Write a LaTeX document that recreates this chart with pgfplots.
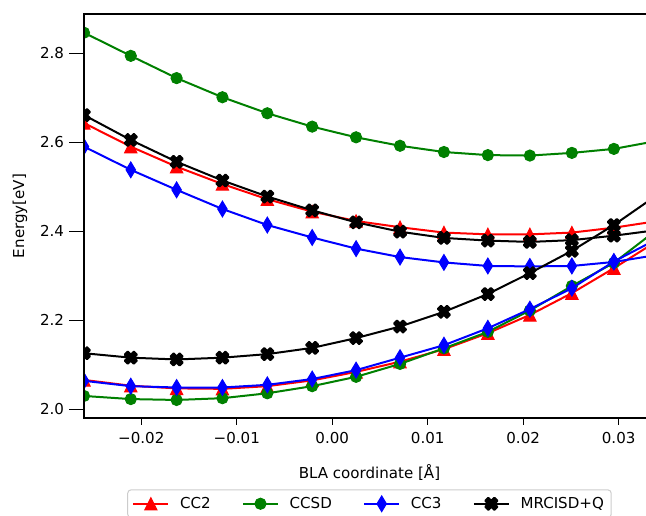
\documentclass[border=0pt]{standalone}
\usepackage{fontspec}
\setmainfont{DejaVu Sans}
\usepackage{pgfplots}
\pgfplotsset{compat=1.18}
\definecolor{mplgreen}{RGB}{0,128,0}
\definecolor{mplred}{RGB}{255,0,0}
\definecolor{mplblue}{RGB}{0,0,255}

\pgfdeclareplotmark{tri}{%
  \pgfpathmoveto{\pgfqpoint{0pt}{\pgfplotmarksize}}%
  \pgfpathlineto{\pgfqpoint{-\pgfplotmarksize}{-\pgfplotmarksize}}%
  \pgfpathlineto{\pgfqpoint{\pgfplotmarksize}{-\pgfplotmarksize}}%
  \pgfpathclose\pgfusepathqfillstroke}
\pgfdeclareplotmark{thind}{%
  \pgfpathmoveto{\pgfqpoint{0pt}{\pgfplotmarksize}}%
  \pgfpathlineto{\pgfqpoint{0.6\pgfplotmarksize}{0pt}}%
  \pgfpathlineto{\pgfqpoint{0pt}{-\pgfplotmarksize}}%
  \pgfpathlineto{\pgfqpoint{-0.6\pgfplotmarksize}{0pt}}%
  \pgfpathclose\pgfusepathqfillstroke}
\pgfdeclareplotmark{Xfill}{%
  \pgfpathmoveto{\pgfqpoint{0.4714\pgfplotmarksize}{-0.9428\pgfplotmarksize}}%
  \pgfpathlineto{\pgfqpoint{0.9428\pgfplotmarksize}{-0.4714\pgfplotmarksize}}%
  \pgfpathlineto{\pgfqpoint{0.4714\pgfplotmarksize}{0pt}}%
  \pgfpathlineto{\pgfqpoint{0.9428\pgfplotmarksize}{0.4714\pgfplotmarksize}}%
  \pgfpathlineto{\pgfqpoint{0.4714\pgfplotmarksize}{0.9428\pgfplotmarksize}}%
  \pgfpathlineto{\pgfqpoint{0pt}{0.4714\pgfplotmarksize}}%
  \pgfpathlineto{\pgfqpoint{-0.4714\pgfplotmarksize}{0.9428\pgfplotmarksize}}%
  \pgfpathlineto{\pgfqpoint{-0.9428\pgfplotmarksize}{0.4714\pgfplotmarksize}}%
  \pgfpathlineto{\pgfqpoint{-0.4714\pgfplotmarksize}{0pt}}%
  \pgfpathlineto{\pgfqpoint{-0.9428\pgfplotmarksize}{-0.4714\pgfplotmarksize}}%
  \pgfpathlineto{\pgfqpoint{-0.4714\pgfplotmarksize}{-0.9428\pgfplotmarksize}}%
  \pgfpathlineto{\pgfqpoint{0pt}{-0.4714\pgfplotmarksize}}%
  \pgfpathclose\pgfusepathqfillstroke}

% x: BLA coordinate, columns: upper and lower state energies
\pgfplotstableread{
x        cctwoU cctwoL ccsdU ccsdL ccthreeU ccthreeL mrU   mrL
-0.0260  2.643  2.066  2.846 2.030 2.590    2.064    2.661 2.126
-0.0211  2.590  2.053  2.794 2.023 2.538    2.052    2.605 2.116
-0.0163  2.545  2.047  2.744 2.021 2.493    2.049    2.556 2.112
-0.0115  2.506  2.046  2.701 2.025 2.450    2.049    2.514 2.116
-0.0068  2.472  2.052  2.665 2.036 2.414    2.055    2.478 2.124
-0.0021  2.444  2.065  2.635 2.052 2.386    2.068    2.447 2.138
 0.0025  2.423  2.084  2.611 2.073 2.361    2.088    2.420 2.160
 0.0071  2.409  2.107  2.592 2.102 2.342    2.116    2.399 2.186
 0.0117  2.397  2.135  2.578 2.137 2.330    2.144    2.385 2.219
 0.0163  2.393  2.171  2.571 2.174 2.322    2.182    2.379 2.259
 0.0207  2.393  2.212  2.570 2.222 2.321    2.225    2.376 2.306
 0.0251  2.397  2.261  2.576 2.277 2.322    2.272    2.380 2.356
 0.0295  2.408  2.317  2.585 2.329 2.331    2.332    2.390 2.414
 0.0338  2.422  2.375  2.602 2.400 2.346    2.380    2.402 2.478
}\datatable

\begin{document}
\fontsize{11.3}{13.6}\selectfont
\begin{tikzpicture}
\begin{axis}[
  at={(0pt,0pt)}, anchor=south west,
  scale only axis, width=428.2pt, height=303pt,
  xmin=-0.0260, xmax=0.0338, ymin=1.9805, ymax=2.888,
  scaled x ticks=false, scaled y ticks=false,
  axis line style={line width=1pt},
  axis on top,
  clip marker paths=true,
  xtick={-0.02,-0.01,0,0.01,0.02,0.03},
  xticklabels={−0.02,−0.01,0.00,0.01,0.02,0.03},
  ytick={2.0,2.2,2.4,2.6,2.8},
  yticklabels={2.0,2.2,2.4,2.6,2.8},
  major tick length=0pt, tick style={draw=none},
  xticklabel style={yshift=-6.8pt},
  yticklabel style={xshift=-11pt},
  xlabel={BLA coordinate [Å]},
  ylabel={Energy[eV]},
  every axis x label/.style={at={(axis description cs:0.5,-0.1361)}, anchor=center},
  every axis y label/.style={at={(axis description cs:-0.1121,0.5)}, rotate=90, anchor=center},
  legend columns=4,
  legend cell align=left,
  legend image code/.code={\draw[mark repeat=2,mark phase=2] plot coordinates {(0pt,0pt) (13.1pt,0pt) (26.25pt,0pt)};},
  legend style={at={(0.5,-0.1766)}, anchor=north, draw=black!20, line width=0.75pt,
    rounded corners=2.5pt, inner xsep=3.5pt, inner ysep=3.4pt,
    /tikz/every odd column/.append style={column sep=6pt},
    /tikz/every even column/.append style={column sep=21.5pt}},
  every axis plot/.append style={line width=1.5pt},
  extra description/.code={
    \pgfplotsinvokeforeach{-0.02,-0.01,0,0.01,0.02,0.03}{\draw[line width=0.75pt] (axis cs:##1,1.9805) -- ++(0pt,-4.9pt);}
    \pgfplotsinvokeforeach{2.0,2.2,2.4,2.6,2.8}{\draw[line width=0.75pt] (axis cs:-0.0260,##1) -- ++(-11.25pt,0pt);}
  },
]
\addplot[mplred, mark=tri, mark size=4.6pt, mark options={solid, line width=0.75pt}] table[x=x,y=cctwoU] {\datatable};
\addlegendentry{CC2}
\addplot[mplred, mark=tri, mark size=4.6pt, mark options={solid, line width=0.75pt}, forget plot] table[x=x,y=cctwoL] {\datatable};
\addplot[mplgreen, mark=*, mark size=4.2pt, mark options={solid, line width=0.75pt}] table[x=x,y=ccsdU] {\datatable};
\addlegendentry{CCSD}
\addplot[mplgreen, mark=*, mark size=4.2pt, mark options={solid, line width=0.75pt}, forget plot] table[x=x,y=ccsdL] {\datatable};
\addplot[mplblue, mark=thind, mark size=5.9pt, mark options={solid, line width=0.75pt}] table[x=x,y=ccthreeU] {\datatable};
\addlegendentry{CC3}
\addplot[mplblue, mark=thind, mark size=5.9pt, mark options={solid, line width=0.75pt}, forget plot] table[x=x,y=ccthreeL] {\datatable};
\addplot[black, mark=Xfill, mark size=4.8pt, mark options={solid, line width=1.5pt, line join=round}] table[x=x,y=mrU] {\datatable};
\addlegendentry{MRCISD+Q}
\addplot[black, mark=Xfill, mark size=4.8pt, mark options={solid, line width=1.5pt, line join=round}, forget plot] table[x=x,y=mrL] {\datatable};
\end{axis}
\pgfresetboundingbox
\path[use as bounding box] (-63pt,-73.5pt) rectangle (421.5pt,313.5pt);
\end{tikzpicture}
\end{document}
